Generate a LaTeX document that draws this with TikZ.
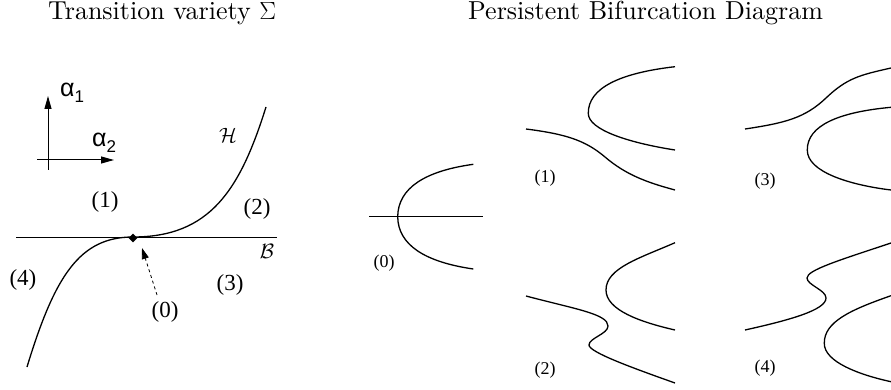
\documentclass[tikz,border=0pt]{standalone}
\usepackage{fontspec}
\newfontfamily\tnr{Liberation Serif}
\newfontfamily\hel{Liberation Sans}
\newfontfamily\lmten{lmroman10-regular}[Extension=.otf]
\usetikzlibrary{arrows.meta,shapes.geometric}
\begin{document}
\begin{tikzpicture}[x=1pt,y=-1pt,
  curve/.style={line width=1.3pt},
  axis/.style={line width=1pt},
  ttl/.style={font=\lmten\fontsize{26}{30}\selectfont, inner sep=0, anchor=base west},
  biglab/.style={font=\tnr\fontsize{23}{26}\selectfont, inner sep=0},
  smalllab/.style={font=\tnr\fontsize{18}{20}\selectfont, inner sep=0},
  callab/.style={font=\fontsize{20.74}{22}\selectfont, inner sep=0},
  alab/.style={font=\hel\fontsize{25}{27}\selectfont, inner sep=0},
  arrowtip/.style={-{Triangle[length=13pt,width=7pt]}},
]
\useasboundingbox (0,0) rectangle (891,390);
% titles
\node[ttl] (t1) at (48,20) {Transition variety $\Sigma$};
\node[ttl] (t2) at (468,20) {Persistent Bifurcation Diagram};
% axes
\coordinate (vb) at (48,170); \coordinate (vt) at (48,96);
\coordinate (hl) at (37,160); \coordinate (hr) at (114,160);
\draw[axis,arrowtip] (vb) -- (vt);
\draw[axis,arrowtip] (hl) -- (hr);
\node[alab] (a1) at (72,93) {α\raisebox{-6pt}{\fontsize{17}{17}\selectfont 1}};
\node[alab] (a2) at (104,143) {α\raisebox{-6pt}{\fontsize{17}{17}\selectfont 2}};
% transition variety
\coordinate (bl) at (16,237); \coordinate (br) at (277,237);
\draw[axis] (bl) -- (br);
\draw[curve] (27,367) .. controls (55,275) and (80,237) .. (133,237)
  .. controls (210,237) and (240,190) .. (266,107);
\node[diamond, fill, inner sep=0, minimum size=9pt] (p0) at (133,238) {};
\node[callab] (H) at (228,135) {$\mathcal{H}$};
\node[callab] (B) at (267,251) {$\mathcal{B}$};
\node[biglab] (r1) at (105,202) {(1)};
\node[biglab] (r2) at (257,209) {(2)};
\node[biglab] (r3) at (230,285) {(3)};
\node[biglab] (r4) at (23,280) {(4)};
\node[biglab] (r0) at (165,312) {(0)};
\coordinate (ds) at (157,295); \coordinate (de) at (142,248);
\draw[dashed, line width=0.8pt, -{Triangle[length=11pt,width=7pt]}] (ds) -- (de);
% panel 0
\coordinate (z0l) at (369,216.7); \coordinate (z0r) at (483,216.7);
\draw[axis] (z0l) -- (z0r);
\draw[curve] (473.3,164.3) .. controls (425,171) and (398,188) .. (397.7,216.7)
  .. controls (398,245) and (425,262) .. (473.3,269);
\node[smalllab] (l0) at (384,263) {(0)};
% panel 1
\draw[curve] (675,66.7) .. controls (620,73) and (588,88) .. (588.3,113.3)
  .. controls (588,130) and (630,143) .. (675,150);
\draw[curve] (526,129) .. controls (565,134) and (585,140) .. (605,157)
  .. controls (625,174) and (645,182) .. (675,190);
\node[smalllab] (l1) at (545,178) {(1)};
% panel 2
\draw[curve] (675,242.7) .. controls (640,258) and (606,268) .. (606,290)
  .. controls (606,310) and (640,322) .. (675,330);
\draw[curve] (526,296) .. controls (575,309) and (608,314) .. (608,326)
  .. controls (608,334) and (589,338) .. (589,345)
  .. controls (589,352) and (630,367) .. (675,383);
\node[smalllab] (l2) at (545,370) {(2)};
% panel 3
\draw[curve] (745,129) .. controls (785,123) and (805,118) .. (826,98)
  .. controls (847,78) and (860,75) .. (891,68);
\draw[curve] (891,107.3) .. controls (840,112) and (807,125) .. (807.3,150)
  .. controls (807,172) and (850,185) .. (891,190);
\node[smalllab] (l3) at (765,181) {(3)};
% panel 4
\draw[curve] (745,330) .. controls (790,320) and (826,310) .. (826,298)
  .. controls (826,290) and (807,285) .. (807,278)
  .. controls (807,270) and (840,260) .. (891,243);
\draw[curve] (891,295.7) .. controls (850,310) and (824,322) .. (824.3,343.3)
  .. controls (824,362) and (860,375) .. (891,381.7);
\node[smalllab] (l4) at (765,368) {(4)};
\end{tikzpicture}
\end{document}
